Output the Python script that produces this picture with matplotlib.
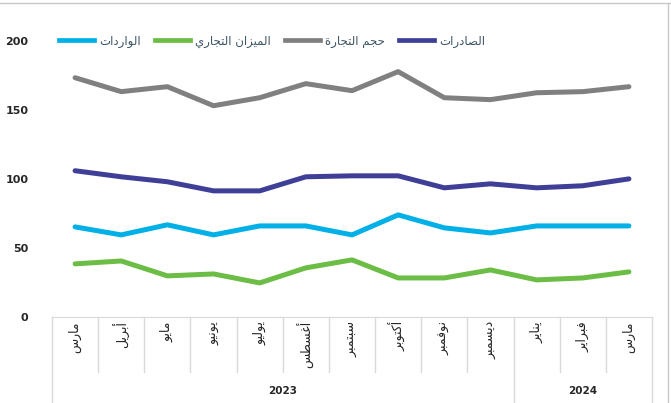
import numpy as np
import matplotlib.pyplot as plt
from matplotlib.lines import Line2D

# data
months = ['مارس', 'أبريل', 'مايو', 'يونيو', 'يوليو', 'أغسطس', 'سبتمبر',
          'أكتوبر', 'نوفمبر', 'ديسمبر', 'يناير', 'فبراير', 'مارس']
years = ['2023', '2024']
year_counts = [10, 3]

trade_volume = [173.4, 163.3, 166.9, 153.1, 158.9, 169.1, 164.0, 177.8, 158.9, 157.5, 162.5, 163.3, 166.9]
exports = [106.0, 101.6, 98.0, 91.4, 91.4, 101.6, 102.3, 102.3, 93.6, 96.5, 93.6, 95.1, 100.1]
imports = [65.3, 59.5, 66.8, 59.5, 66.0, 66.0, 59.5, 74.0, 64.6, 60.9, 66.0, 66.0, 66.0]
balance = [38.5, 40.6, 29.8, 31.2, 24.7, 35.6, 41.4, 28.3, 28.3, 34.1, 26.9, 28.3, 32.7]

series_names = ['الواردات', 'الميزان التجاري', 'حجم التجارة', 'الصادرات']
series_colors = ['#00b0e6', '#6cbd45', '#808080', '#403f98']

# --- simple arabic shaping (matplotlib has no complex text layout) ---
# base code of presentation form: isolated, final, initial, medial follow
DUAL = {'ب': 0xFE8F, 'ت': 0xFE95, 'ج': 0xFE9D, 'ح': 0xFEA1, 'س': 0xFEB1,
        'ص': 0xFEB9, 'ط': 0xFEC1, 'غ': 0xFECD, 'ف': 0xFED1, 'ك': 0xFED9,
        'ل': 0xFEDD, 'م': 0xFEE1, 'ن': 0xFEE5, 'ي': 0xFEF1}
RIGHT = {'ا': 0xFE8D, 'أ': 0xFE83, 'ة': 0xFE93, 'د': 0xFEA9, 'ر': 0xFEAD,
         'ز': 0xFEAF, 'و': 0xFEED}


def shape(word):
    out = []
    for i, c in enumerate(word):
        prev = word[i - 1] if i > 0 else ''
        nxt = word[i + 1] if i + 1 < len(word) else ''
        join_prev = prev in DUAL
        join_next = c in DUAL and (nxt in DUAL or nxt in RIGHT)
        if c in DUAL:
            base = DUAL[c]
            if join_prev and join_next:
                out.append(chr(base + 3))
            elif join_next:
                out.append(chr(base + 2))
            elif join_prev:
                out.append(chr(base + 1))
            else:
                out.append(chr(base))
        elif c in RIGHT:
            out.append(chr(RIGHT[c] + (1 if join_prev else 0)))
        else:
            out.append(c)
    return ''.join(out)


def ar(text):
    return ' '.join(shape(w) for w in text.split(' '))[::-1]


plt.rcParams['font.family'] = ['DejaVu Sans']

fig = plt.figure(figsize=(6.71, 4.03), dpi=100)
ax = fig.add_axes([52 / 671, 1 - 317 / 403, 600 / 671, 276 / 403])

x = np.arange(len(months))
for vals, col in zip([trade_volume, exports, imports, balance],
                     ['#808080', '#403f98', '#00b0e6', '#6cbd45']):
    ax.plot(x, vals, color=col, lw=3.6, solid_capstyle='round', solid_joinstyle='round')

ax.set_xlim(-0.5, len(months) - 0.5)
ax.set_ylim(0, 200)
ax.set_yticks([0, 50, 100, 150, 200])
ax.tick_params(axis='y', length=0, pad=17, labelsize=8, labelcolor='#262626')
for t in ax.get_yticklabels():
    t.set_fontweight('bold')
ax.set_xticks([])
for s in ['top', 'right', 'left']:
    ax.spines[s].set_visible(False)
ax.spines['bottom'].set_color('#d9d9d9')

# category table under the axis
sep_color = '#d9d9d9'
trans = ax.get_xaxis_transform()
for i, m in enumerate(months):
    ax.text(i, -0.015, ar(m), transform=trans, rotation=90, ha='center', va='top',
            fontsize=9, color='#262626')
edges = np.arange(len(months) + 1) - 0.5
year_edges = [0] + list(np.cumsum(year_counts))
y_mid = -(372 - 317) / 276
y_low = -(403 - 317) / 276
for e in range(len(months) + 1):
    full = e in year_edges
    ax.add_line(Line2D([edges[e], edges[e]], [0, y_low if full else y_mid],
                       transform=trans, color=sep_color, lw=1, clip_on=False))
for k, yr in enumerate(years):
    c = (year_edges[k] + year_edges[k + 1]) / 2 - 0.5
    ax.text(c, -(391 - 317) / 276, yr, transform=trans, ha='center', va='center',
            fontsize=7.5, fontweight='bold', color='#262626')

# legend
handles = [Line2D([], [], color=c, lw=3.4) for c in series_colors]
leg = fig.legend(handles, [ar(n) for n in series_names], loc='center',
                 bbox_to_anchor=(272 / 671, 1 - 41 / 403), ncol=4, frameon=False,
                 fontsize=8.5, handlelength=3.0, columnspacing=1.2, handletextpad=0.4)
for t in leg.get_texts():
    t.set_color('#3d5566')

# outer frame lines
fig.add_artist(Line2D([0, 1], [1 - 3 / 403] * 2, transform=fig.transFigure,
                      color='#c8c8c8', lw=1))
fig.add_artist(Line2D([668 / 671] * 2, [0, 1 - 3 / 403], transform=fig.transFigure,
                      color='#c8c8c8', lw=1))

fig.savefig('out.png', dpi=100)
